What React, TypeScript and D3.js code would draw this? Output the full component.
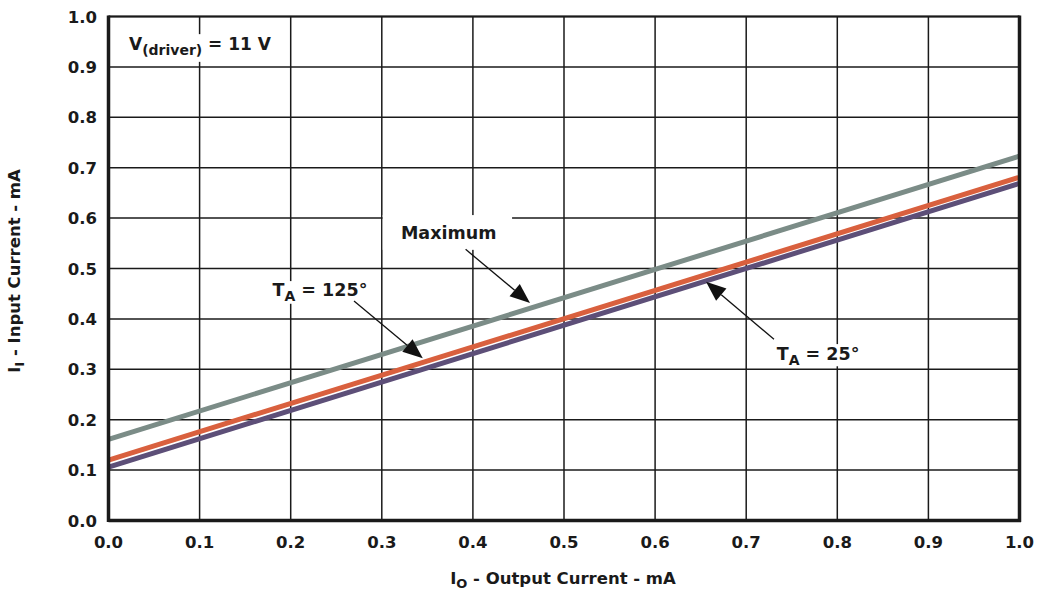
import React from "react";
import * as d3 from "d3";

const xTicks = [0, 0.1, 0.2, 0.3, 0.4, 0.5, 0.6, 0.7, 0.8, 0.9, 1.0];
const yTicks = [0, 0.1, 0.2, 0.3, 0.4, 0.5, 0.6, 0.7, 0.8, 0.9, 1.0];
const outputCurrent = [0, 1.0];
const maximumSeries = [0.161, 0.723];
const ta125Series = [0.12, 0.681];
const ta25Series = [0.106, 0.669];

const seriesList = [
  { name: "Maximum", values: maximumSeries, color: "#7b8c87" },
  { name: "TA125", values: ta125Series, color: "#d9603e" },
  { name: "TA25", values: ta25Series, color: "#5d4f78" },
];

// annotations in data coords
const annotations = [
  { label: "Maximum", sub: "", tail: "", tx: 0.321, ty: 0.5585, from: [0.392, 0.538], to: [0.4627, 0.4315], box: [0.301, 0.606, 0.443, 0.537] },
  { label: "T", sub: "A", tail: " = 125°", tx: 0.180, ty: 0.4454, from: [0.2695, 0.4355], to: [0.345, 0.3218], box: [0.17, 0.475, 0.28, 0.43] },
  { label: "T", sub: "A", tail: " = 25°", tx: 0.7335, ty: 0.3185, from: [0.7305, 0.3595], to: [0.6559, 0.4738], box: [0.725, 0.35, 0.83, 0.306] },
];

const FONT = "'DejaVu Sans', sans-serif";

export default function App() {
  const W = 1037, H = 590;
  const x = d3.scaleLinear().domain([0, 1]).range([108.5, 1019.5]);
  const y = d3.scaleLinear().domain([0, 1]).range([520.5, 16.5]);
  const line = d3.line<number>().x((_, i) => x(outputCurrent[i])).y((d) => y(d));

  const arrowHead = (fx: number, fy: number, tx: number, ty: number) => {
    const ang = Math.atan2(ty - fy, tx - fx);
    const L = 20, Wd = 8;
    const bx = tx - L * Math.cos(ang), by = ty - L * Math.sin(ang);
    const px = -Math.sin(ang) * Wd, py = Math.cos(ang) * Wd;
    return { path: `M${tx},${ty}L${bx + px},${by + py}L${bx - px},${by - py}Z`, bx, by };
  };

  return (
    <svg width={W} height={H} style={{ position: "absolute", left: 0, top: 0, background: "#fff" }} fontFamily={FONT} fontWeight="bold">
      <rect x={0} y={0} width={W} height={H} fill="#fff" />
      {/* grid */}
      {xTicks.map((t) => (
        <line key={"gx" + t} x1={x(t)} x2={x(t)} y1={y(0)} y2={y(1)} stroke="#1a1a1a" strokeWidth={1.5} />
      ))}
      {yTicks.map((t) => (
        <line key={"gy" + t} x1={x(0)} x2={x(1)} y1={y(t)} y2={y(t)} stroke="#1a1a1a" strokeWidth={1.5} />
      ))}
      {/* white boxes behind labels */}
      {annotations.map((a, i) => (
        <rect key={"b" + i} x={x(a.box[0])} y={y(a.box[1])} width={x(a.box[2]) - x(a.box[0])} height={y(a.box[3]) - y(a.box[1])} fill="#fff" />
      ))}
      <rect x={x(0.015)} y={y(0.965)} width={x(0.175) - x(0.015)} height={y(0.91) - y(0.965)} fill="#fff" />
      {/* series */}
      {seriesList.map((s) => (
        <path key={s.name} d={line(s.values) || ""} fill="none" stroke={s.color} strokeWidth={5} />
      ))}
      {/* frame */}
      <line x1={x(0)} x2={x(1)} y1={y(1)} y2={y(1)} stroke="#1a1a1a" strokeWidth={2} />
      <line x1={x(0)} x2={x(1) + 1.5} y1={y(0)} y2={y(0)} stroke="#1a1a1a" strokeWidth={3.5} />
      <line x1={x(0)} x2={x(0)} y1={y(1) - 1} y2={y(0) + 1.5} stroke="#1a1a1a" strokeWidth={3.5} />
      <line x1={x(1)} x2={x(1)} y1={y(1) - 1} y2={y(0) + 1.5} stroke="#1a1a1a" strokeWidth={3.5} />
      {/* annotations */}
      {annotations.map((a, i) => {
        const fx = x(a.from[0]), fy = y(a.from[1]), tx = x(a.to[0]), ty = y(a.to[1]);
        const h = arrowHead(fx, fy, tx, ty);
        return (
          <g key={"a" + i}>
            <line x1={fx} y1={fy} x2={h.bx} y2={h.by} stroke="#111" strokeWidth={1.3} />
            <path d={h.path} fill="#111" />
            <text x={x(a.tx)} y={y(a.ty)} fontSize={17.5} fill="#1a1a1a">
              {a.label}
              {a.sub && <tspan fontSize={14} dy={5}>{a.sub}</tspan>}
              {a.tail && <tspan dy={-5}>{a.tail}</tspan>}
            </text>
          </g>
        );
      })}
      <text x={x(0.0225)} y={y(0.9335)} fontSize={17} fill="#1a1a1a">
        V<tspan fontSize={14} dy={5}>(driver)</tspan><tspan dy={-5}> = 11 V</tspan>
      </text>
      {/* tick labels */}
      {yTicks.map((t) => (
        <text key={"yl" + t} x={97} y={y(t) + 6} textAnchor="end" fontSize={16.5} fill="#1a1a1a">{d3.format(".1f")(t)}</text>
      ))}
      {xTicks.map((t) => (
        <text key={"xl" + t} x={x(t)} y={548} textAnchor="middle" fontSize={16.5} fill="#1a1a1a">{d3.format(".1f")(t)}</text>
      ))}
      {/* axis titles */}
      <text x={563} y={584} textAnchor="middle" fontSize={16.5} fill="#1a1a1a">
        I<tspan fontSize={13} dy={4}>O</tspan><tspan dy={-4}> - Output Current - mA</tspan>
      </text>
      <text transform={`translate(20,271) rotate(-90)`} textAnchor="middle" fontSize={16.5} fill="#1a1a1a">
        I<tspan fontSize={13} dy={4}>I</tspan><tspan dy={-4}> - Input Current - mA</tspan>
      </text>
    </svg>
  );
}
